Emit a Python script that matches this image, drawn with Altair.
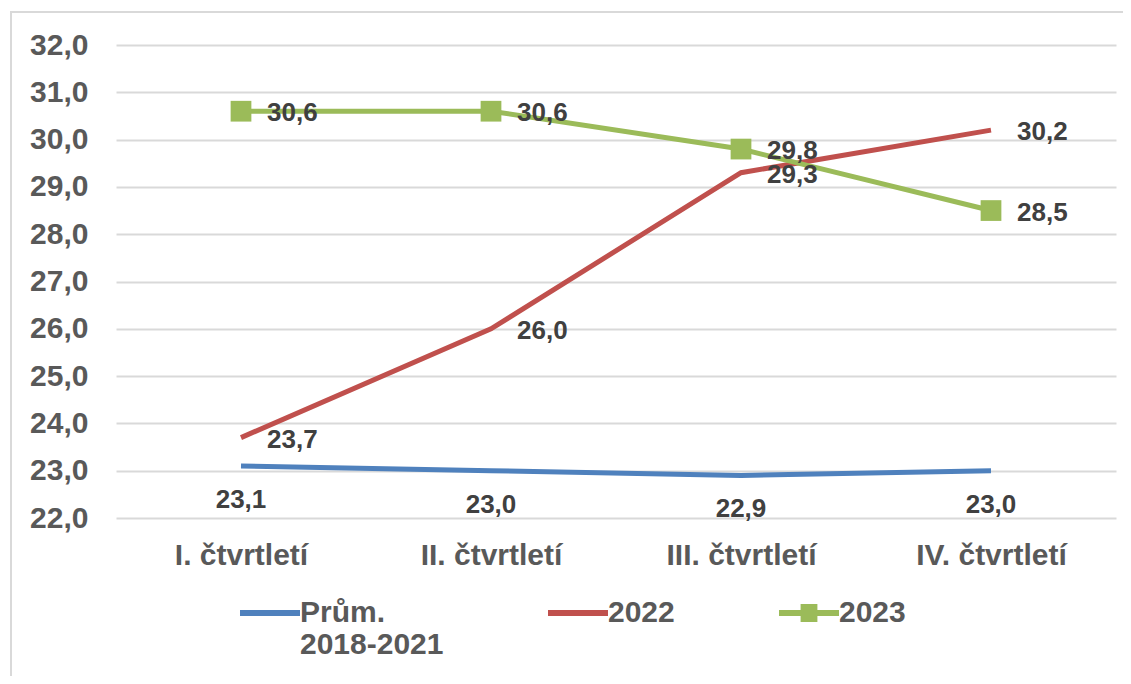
import altair as alt
import pandas as pd

quarters = ["I. čtvrtletí", "II. čtvrtletí", "III. čtvrtletí", "IV. čtvrtletí"]
series_names = ["Prům. 2018-2021", "2022", "2023"]
prum = [23.1, 23.0, 22.9, 23.0]
y2022 = [23.7, 26.0, 29.3, 30.2]
y2023 = [30.6, 30.6, 29.8, 28.5]
colors = ["#4f81bd", "#c0504d", "#9bbb59"]

rows = []
for name, vals in zip(series_names, [prum, y2022, y2023]):
    for q, v in zip(quarters, vals):
        rows.append({"q": q, "series": name, "value": v})
df = pd.DataFrame(rows)

FONT = "Liberation Sans"
LINE_PATH = "M-1,-0.1H1V0.1H-1Z"
SQUARE_PATH = "M-1,-0.1H1V0.1H-1Z M-0.28,-0.3H0.28V0.3H-0.28Z"
LEG_EXPR = "datum.label == 'Prům. 2018-2021' ? ['Prům.', '2018-2021'] : [datum.label, ' ']"

base = alt.Chart(df).transform_calculate(
    lbl="replace(format(datum.value, '.1f'), '.', ',')"
)

x = alt.X("q:N", sort=quarters, title=None,
          scale=alt.Scale(padding=0.5),
          axis=alt.Axis(labelAngle=0, labelFont=FONT, labelFontSize=30,
                        labelFontWeight="bold", labelColor="#595959",
                        labelPadding=22, ticks=False, domain=False))
y = alt.Y("value:Q", title=None,
          scale=alt.Scale(domain=[22, 32], nice=False, zero=False),
          axis=alt.Axis(values=list(range(22, 33)), labelFont=FONT, labelFontSize=30,
                        labelFontWeight="bold", labelColor="#595959",
                        labelExpr="replace(format(datum.value, '.1f'), '.', ',')",
                        labelPadding=28, ticks=False, domain=False,
                        gridColor="#d9d9d9", gridWidth=2))

color_scale = alt.Scale(domain=series_names, range=colors)

frame = alt.Chart(pd.DataFrame({"k": [0]})).mark_rect(
    fill="transparent", stroke="#d9d9d9", strokeWidth=2
).encode(x=alt.value(-105), x2=alt.value(1100), y=alt.value(-33), y2=alt.value(700))

line_layers = [
    base.transform_filter(alt.datum.series == name).mark_line(strokeWidth=5, color=c).encode(x=x, y=y)
    for name, c in zip(series_names, colors)
]

squares = base.transform_filter(alt.datum.series == "2023").mark_square(
    size=430, opacity=1, color=colors[2]
).encode(x=x, y=y)

lab_style = dict(font=FONT, fontSize=26, fontWeight="bold", color="#404040")

lab_prum = base.transform_filter(alt.datum.series == series_names[0]).mark_text(
    dy=34, align="center", baseline="middle", **lab_style
).encode(x=x, y=y, text="lbl:N")

lab_right = base.transform_filter(alt.datum.series != series_names[0]).mark_text(
    dx=26, dy=2, align="left", baseline="middle", **lab_style
).encode(x=x, y=y, text="lbl:N")

legend_layer = base.mark_point(filled=True, opacity=0).encode(
    x=x, y=y,
    color=alt.Color("series:N", scale=color_scale, title=None,
                    legend=alt.Legend(labelExpr=LEG_EXPR)),
    shape=alt.Shape("series:N", scale=alt.Scale(domain=series_names,
                                                 range=[LINE_PATH, LINE_PATH, SQUARE_PATH]),
                    title=None, legend=alt.Legend(labelExpr=LEG_EXPR)),
)

chart = alt.layer(frame, *line_layers, squares, lab_prum, lab_right, legend_layer).properties(
    width=1000, height=473,
    autosize=alt.AutoSizeParams(type="none"),
    padding={"left": 108, "top": 37, "right": 7, "bottom": 158},
).configure_view(stroke=None).configure_legend(
    orient="none", legendX=124, legendY=538,
    direction="horizontal", columns=3,
    symbolSize=3600, symbolOpacity=1, symbolStrokeWidth=0,
    labelFont=FONT, labelFontSize=30, labelFontWeight="bold", labelColor="#595959",
    labelOffset=0, columnPadding=104, labelLimit=400,
)

chart.save("out.html", embed_options={"renderer": "svg", "actions": False})
